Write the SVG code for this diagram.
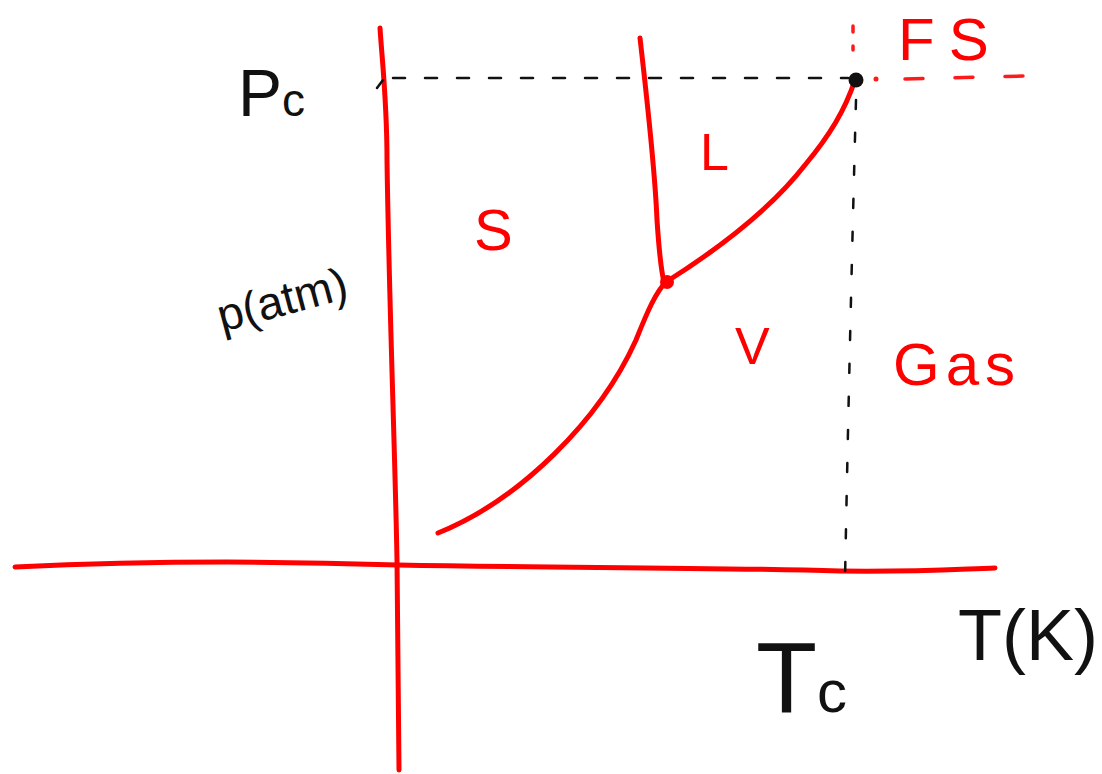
<svg xmlns="http://www.w3.org/2000/svg" width="1102" height="774" viewBox="0 0 1102 774">
<style>
.ax{fill:none;stroke:#ff0000;stroke-width:5;stroke-linecap:round;stroke-linejoin:round}
.dk{fill:none;stroke:#111;stroke-width:2.5;stroke-linecap:round}
.dr{fill:none;stroke:#ff1a1a;stroke-width:3.5;stroke-linecap:round}
.tb{font-family:"Liberation Sans",Arial,sans-serif;fill:#111}
.tr{font-family:"Liberation Sans",Arial,sans-serif;fill:#ff0000}
</style>
<rect width="1102" height="774" fill="#ffffff"/>
<g id="connectors">
<path id="axis-p" class="ax" d="M380,28 C382,60 387,100 387,160 C389,300 395,450 397,560 C398,650 398,720 399,770"/>
<path id="axis-t" class="ax" d="M15,567 C120,562 250,560 398,565 C560,568 700,567 840,571 C920,572 960,569 995,568"/>
<path id="fusion" class="ax" d="M640,38 C646,90 655,170 657,220 C659,250 661,270 664,282"/>
<path id="sublimation" class="ax" d="M438,533 C520,500 600,420 636,340 C648,310 656,292 666,282"/>
<path id="vaporization" class="ax" d="M666,282 C720,248 770,210 805,165 C830,135 845,110 855,80"/>
<path id="pc-dash" class="dk" stroke-dasharray="12,20" d="M377,88 L383,80 M393,78 L848,78"/>
<path id="tc-dash" class="dk" stroke-dasharray="9,24" d="M856,100 C852,250 848,420 845,580"/>
<path id="fs-h" class="dr" stroke-dasharray="18,32" d="M905,79 L1025,76"/>
<circle cx="876" cy="79" r="2.5" fill="#ff1a1a"/>
<path id="fs-v" class="dr" d="M853,26 L853,32 M853,46 L853,50"/>
</g>
<g id="triple-point"><circle cx="667" cy="282" r="7" fill="#ff0000"/></g>
<g id="critical-point"><circle cx="856" cy="80" r="7.5" fill="#111"/></g>
<g id="label-pc"><text class="tb" x="238" y="116" font-size="66">P<tspan font-size="46">c</tspan></text></g>
<g id="label-patm"><text class="tb" x="222" y="332" font-size="46" transform="rotate(-15 222 332)">p(atm)</text></g>
<g id="label-s"><text class="tr" x="474" y="250" font-size="58">S</text></g>
<g id="label-l"><text class="tr" x="700" y="170" font-size="52">L</text></g>
<g id="label-v"><text class="tr" x="735" y="364" font-size="52">V</text></g>
<g id="label-gas"><text class="tr" x="893" y="385" font-size="60" letter-spacing="6">Gas</text></g>
<g id="label-fs"><text class="tr" x="898" y="60" font-size="60" letter-spacing="14">FS</text></g>
<g id="label-tc"><text class="tb" x="756" y="712" font-size="100">T<tspan font-size="60">c</tspan></text></g>
<g id="label-tk"><text class="tb" x="958" y="660" font-size="72">T(K)</text></g>
</svg>
